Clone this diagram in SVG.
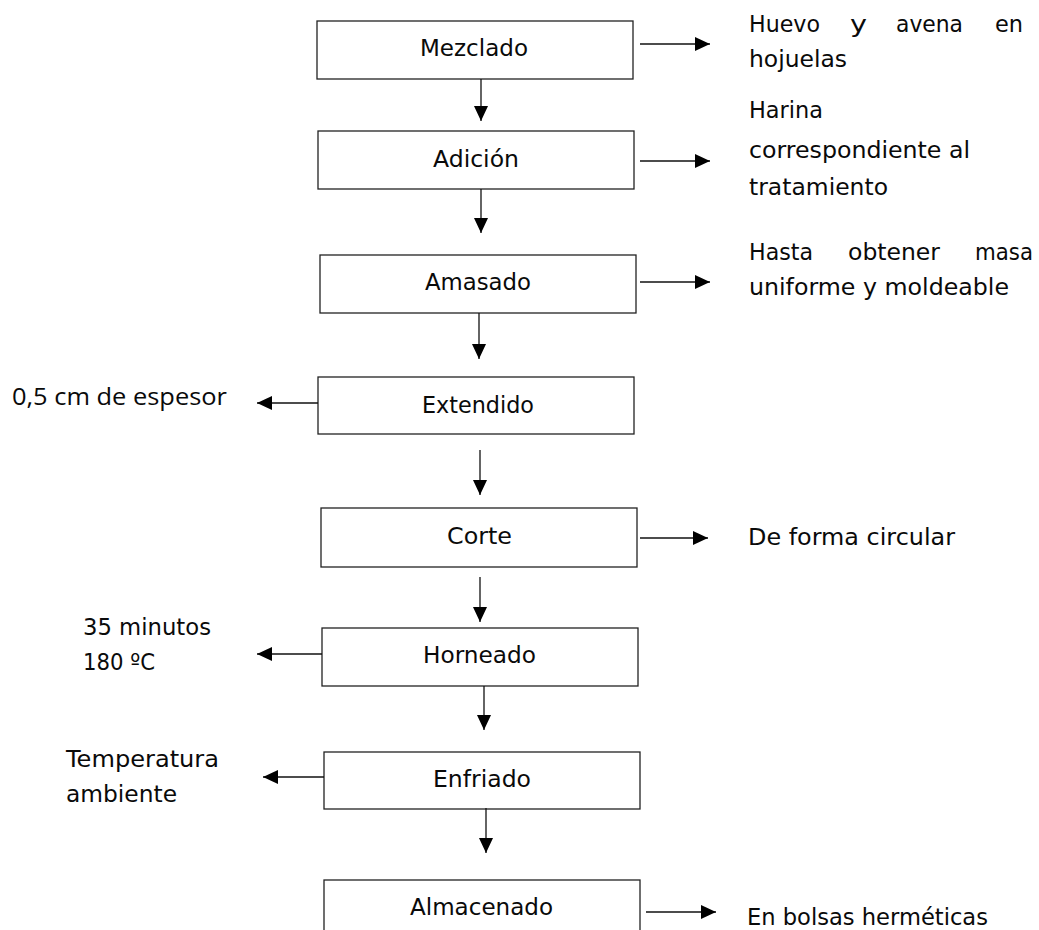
<svg xmlns="http://www.w3.org/2000/svg" width="1039" height="930" viewBox="0 0 1039 930">
  <style>
    .box { fill: #ffffff; stroke: #222222; stroke-width: 1.3; }
    .lbl { font-family: "DejaVu Sans", "Noto Sans", sans-serif; font-size: 23px; fill: #0a0a0a; }
    .alt { font-family: "Open Sans", "Noto Sans", sans-serif; }
    .wire { stroke: #111111; stroke-width: 1.3; fill: none; marker-end: url(#tip); }
  </style>
  <defs>
    <marker id="tip" viewBox="0 0 15 14" refX="15" refY="7" markerWidth="15" markerHeight="14" markerUnits="userSpaceOnUse" orient="auto">
      <path d="M0,0 L15,7 L0,14 Z" fill="#000000"/>
    </marker>
  </defs>

  <!-- process steps -->
  <g id="mezclado">
    <rect class="box" x="317" y="21" width="316" height="58"/>
    <text class="lbl" x="420" y="56" textLength="108" lengthAdjust="spacingAndGlyphs">Mezclado</text>
  </g>
  <g id="adicion">
    <rect class="box" x="318" y="131" width="316" height="58"/>
    <text class="lbl" x="433" y="167" textLength="86" lengthAdjust="spacingAndGlyphs">Adición</text>
  </g>
  <g id="amasado">
    <rect class="box" x="320" y="255" width="316" height="58"/>
    <text class="lbl" x="425" y="290" textLength="106" lengthAdjust="spacingAndGlyphs">Amasado</text>
  </g>
  <g id="extendido">
    <rect class="box" x="318" y="377" width="316" height="57"/>
    <text class="lbl" x="422" y="413" textLength="112" lengthAdjust="spacingAndGlyphs">Extendido</text>
  </g>
  <g id="corte">
    <rect class="box" x="321" y="508" width="316" height="59"/>
    <text class="lbl" x="447" y="544" textLength="65" lengthAdjust="spacingAndGlyphs">Corte</text>
  </g>
  <g id="horneado">
    <rect class="box" x="322" y="628" width="316" height="58"/>
    <text class="lbl" x="423" y="663" textLength="113" lengthAdjust="spacingAndGlyphs">Horneado</text>
  </g>
  <g id="enfriado">
    <rect class="box" x="324" y="752" width="316" height="57"/>
    <text class="lbl" x="433" y="787" textLength="98" lengthAdjust="spacingAndGlyphs">Enfriado</text>
  </g>
  <g id="almacenado">
    <rect class="box" x="324" y="880" width="316" height="70"/>
    <text class="lbl" x="410" y="915" textLength="143" lengthAdjust="spacingAndGlyphs">Almacenado</text>
  </g>

  <!-- side notes -->
  <g id="nota-mezclado" class="lbl">
    <text x="749" y="32" textLength="71" lengthAdjust="spacingAndGlyphs">Huevo</text>
    <text x="850" y="32" textLength="17" lengthAdjust="spacingAndGlyphs">y</text>
    <text x="896" y="32" textLength="67" lengthAdjust="spacingAndGlyphs">avena</text>
    <text x="995" y="32" textLength="28" lengthAdjust="spacingAndGlyphs">en</text>
    <text x="749" y="67" textLength="98" lengthAdjust="spacingAndGlyphs">hojuelas</text>
  </g>
  <g id="nota-adicion" class="lbl">
    <text x="749" y="118" textLength="74" lengthAdjust="spacingAndGlyphs">Harina</text>
    <text x="749" y="158" textLength="221" lengthAdjust="spacingAndGlyphs">correspondiente al</text>
    <text x="749" y="195" textLength="139" lengthAdjust="spacingAndGlyphs">tratamiento</text>
  </g>
  <g id="nota-amasado" class="lbl">
    <text x="749" y="260" textLength="64" lengthAdjust="spacingAndGlyphs">Hasta</text>
    <text x="848" y="260" textLength="92" lengthAdjust="spacingAndGlyphs">obtener</text>
    <text x="975" y="260" textLength="58" lengthAdjust="spacingAndGlyphs">masa</text>
    <text x="749" y="295" textLength="260" lengthAdjust="spacingAndGlyphs">uniforme y moldeable</text>
  </g>
  <g id="nota-extendido" class="lbl alt">
    <text x="12" y="405" textLength="215" lengthAdjust="spacingAndGlyphs">0,5 cm de espesor</text>
  </g>
  <g id="nota-corte" class="lbl">
    <text x="748" y="545" textLength="207" lengthAdjust="spacingAndGlyphs">De forma circular</text>
  </g>
  <g id="nota-horneado" class="lbl">
    <text x="83" y="635" textLength="128" lengthAdjust="spacingAndGlyphs">35 minutos</text>
    <text x="83" y="670" textLength="72" lengthAdjust="spacingAndGlyphs">180 ºC</text>
  </g>
  <g id="nota-enfriado" class="lbl">
    <text x="66" y="767" textLength="153" lengthAdjust="spacingAndGlyphs">Temperatura</text>
    <text x="66" y="802" textLength="111" lengthAdjust="spacingAndGlyphs">ambiente</text>
  </g>
  <g id="nota-almacenado" class="lbl">
    <text x="747" y="925" textLength="241" lengthAdjust="spacingAndGlyphs">En bolsas herméticas</text>
  </g>

  <!-- connectors -->
  <g id="connectors">
    <line class="wire" x1="481" y1="79" x2="481" y2="121"/>
    <line class="wire" x1="481" y1="189" x2="481" y2="233"/>
    <line class="wire" x1="479" y1="313" x2="479" y2="359"/>
    <line class="wire" x1="480" y1="450" x2="480" y2="495"/>
    <line class="wire" x1="480" y1="577" x2="480" y2="622"/>
    <line class="wire" x1="484" y1="686" x2="484" y2="730"/>
    <line class="wire" x1="486" y1="808" x2="486" y2="853"/>

    <line class="wire" x1="640" y1="44" x2="710" y2="44"/>
    <line class="wire" x1="640" y1="161" x2="710" y2="161"/>
    <line class="wire" x1="640" y1="282" x2="710" y2="282"/>
    <line class="wire" x1="640" y1="538" x2="708" y2="538"/>
    <line class="wire" x1="646" y1="912" x2="716" y2="912"/>

    <line class="wire" x1="318" y1="403" x2="257" y2="403"/>
    <line class="wire" x1="322" y1="654" x2="257" y2="654"/>
    <line class="wire" x1="324" y1="777" x2="263" y2="777"/>
  </g>
</svg>
